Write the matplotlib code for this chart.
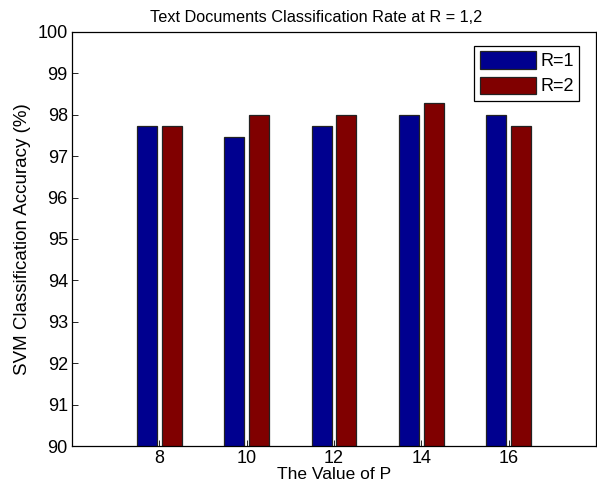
import numpy as np
import matplotlib.pyplot as plt

plt.rcParams['font.family'] = ['Liberation Sans', 'DejaVu Sans']

# classification accuracy (%) for each P value
p_values = [8, 10, 12, 14, 16]
acc_r1 = [97.73, 97.46, 97.73, 98.0, 98.0]
acc_r2 = [97.73, 98.0, 98.0, 98.29, 97.73]
series_names = ['R=1', 'R=2']


def main():
    fig = plt.figure(figsize=(5.97, 4.84), dpi=100)
    ax = fig.add_axes([0.1206, 0.0785, 0.8777, 0.8554])

    x = np.array(p_values, dtype=float)
    w = 0.46
    ax.bar(x - 0.28, acc_r1, width=w, color='#00008F', edgecolor='#222222',
           linewidth=0.9, label=series_names[0])
    ax.bar(x + 0.28, acc_r2, width=w, color='#800000', edgecolor='#222222',
           linewidth=0.9, label=series_names[1])

    ax.set_xlim(6, 18)
    ax.set_ylim(90, 100)
    ax.set_xticks(p_values)
    ax.set_yticks(range(90, 101))
    ax.tick_params(direction='in', length=4, labelsize=13, width=0.6,
                   top=False, right=False, pad=3)
    for s in ax.spines.values():
        s.set_linewidth(0.9)

    ax.set_title('Text Documents Classification Rate at R = 1,2', fontsize=11.7,
                 x=0.466, pad=7)
    ax.set_xlabel('The Value of P', fontsize=12.5, labelpad=0)
    ax.set_ylabel('SVM Classification Accuracy (%)', fontsize=13.5, labelpad=5)

    leg = ax.legend(loc='upper right', bbox_to_anchor=(0.968, 0.966), fontsize=13,
                    handlelength=3.1, handleheight=1.1, handletextpad=0.25,
                    labelspacing=0.35, borderpad=0.3, borderaxespad=0,
                    fancybox=False, framealpha=1, edgecolor='black')
    leg.get_frame().set_linewidth(0.9)

    fig.savefig('out.png', dpi=100)


if __name__ == '__main__':
    main()
